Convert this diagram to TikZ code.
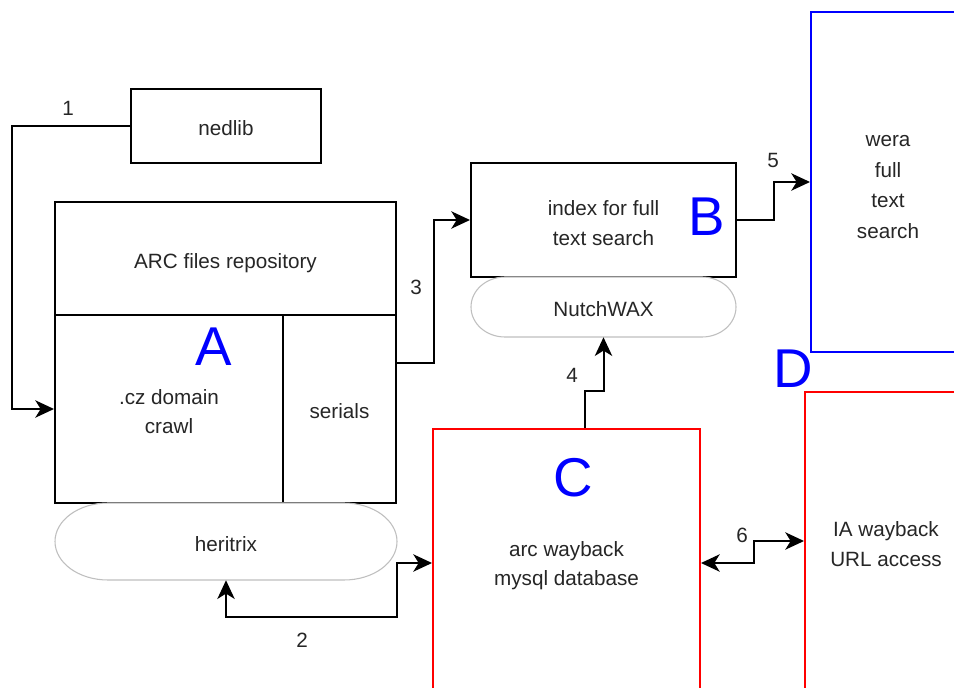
\documentclass[tikz,border=0pt]{standalone}
\usepackage{fontspec}
\setmainfont{Liberation Sans}
\usetikzlibrary{arrows.meta}
\tikzset{
  sz/.style 2 args={minimum width=#1*0.75pt, minimum height=#2*0.75pt, inner sep=0pt},
  num/.style={font=\fontsize{15.5}{22}\selectfont, text=black!85},
  txt/.style={font=\fontsize{15.5}{22}\selectfont, align=center, text=black!85, inner sep=0pt,
    execute at begin node={\rule{0pt}{17.9pt}},
    execute at end node={\rule[-3pt]{0pt}{3pt}}},
  blk/.style={draw=black, line width=1.5pt},
  redbox/.style={draw=red, line width=1.5pt},
  bluebox/.style={draw=blue, line width=1.5pt},
  big/.style={font=\fontsize{41}{41}\selectfont, text=blue, inner sep=0pt},
  capsule/.style={draw=black!25, line width=0.8pt, fill=white},
  conn/.style={line width=1.5pt, draw=black},
  tip/.style={-{Stealth[length=14pt,width=13pt,inset=4pt]}},
  tipboth/.style={{Stealth[length=14pt,width=13pt,inset=4pt]}-{Stealth[length=14pt,width=13pt,inset=4pt]}}
}
\begin{document}
\begin{tikzpicture}[x=0.75pt,y=-0.75pt]
\useasboundingbox (0,0) rectangle (954,688);
\fill[white] (0,0) rectangle (954,688);

% boxes
\node[blk, sz={190}{74}, txt] (nedlib) at (226,126) {nedlib};
\node[blk, sz={341}{113}, txt] (arc) at (225.5,258.5) {ARC files repository};
\node[blk, sz={228}{188}] (cz) at (169,409) {};
\node[txt] (czt) at (169,413.5) {.cz domain\\crawl};
\node[blk, sz={113}{188}, txt] (serials) at (339.5,409) {serials};
\node[blk, sz={265}{114}] (idx) at (603.5,220) {};
\node[txt] (idxt) at (603.5,225) {index for full\\text search};
\node[redbox, sz={267}{268}] (arcwb) at (566.5,563) {};
\node[txt] (arcwbt) at (566.5,565.5) {arc wayback\\mysql database};
\node[bluebox, sz={150}{340}] (wera) at (886,182) {};
\node[txt, font=\fontsize{15.5}{23}\selectfont] (werat) at (888,189) {wera\\full\\text\\search};
\node[redbox, sz={162}{298}] (ia) at (886,541) {};
\node[txt] (iat) at (886,546) {IA wayback\\URL access};

% capsules
\draw[capsule] (108,503) -- (344,503) .. controls (373.3,503) and (397,520.2) .. (397,541.5)
  .. controls (397,562.8) and (373.3,580) .. (344,580) -- (108,580)
  .. controls (78.7,580) and (55,562.8) .. (55,541.5)
  .. controls (55,520.2) and (78.7,503) .. (108,503) -- cycle;
\node[sz={342}{77}, txt] (her) at (226,541.5) {heritrix};

\draw[capsule] (505,277) -- (702,277) .. controls (720.8,277) and (736,290.4) .. (736,307)
  .. controls (736,323.6) and (720.8,337) .. (702,337) -- (505,337)
  .. controls (486.2,337) and (471,323.6) .. (471,307)
  .. controls (471,290.4) and (486.2,277) .. (505,277) -- cycle;
\node[sz={265}{60}, txt] (nutch) at (603.5,307) {NutchWAX};

% big letters
\node[big] (lA) at (214,347) {A};
\node[big] (lB) at (707,217) {B};
\node[big] (lC) at (573,478) {C};
\node[big] (lD) at (793,369) {D};

% connectors
\draw[conn, tip] (nedlib.west) -- ++(-118,0) |- (cz.west);
\draw[conn, tip] ([yshift=34.5pt]serials.east) -- ++(37,0) |- (idx.west);
\draw[conn, tipboth] (her.south) |- (397,617) |- (arcwb.west);
\draw[conn, tip] ([xshift=13.5pt]arcwb.north) -- ++(0,-37) -| (nutch.south);
\draw[conn, tip] (idx.east) -- ++(37,0) |- (wera.west);
\draw[conn, tipboth] (arcwb.east) -- ++(53,0) |- (ia.west);

% numbers
\node[num] (n1) at (68,108) {1};
\node[num] (n2) at (302,640) {2};
\node[num] (n3) at (416,287) {3};
\node[num] (n4) at (572,375) {4};
\node[num] (n5) at (773,160) {5};
\node[num] (n6) at (742,535) {6};
\end{tikzpicture}
\end{document}
